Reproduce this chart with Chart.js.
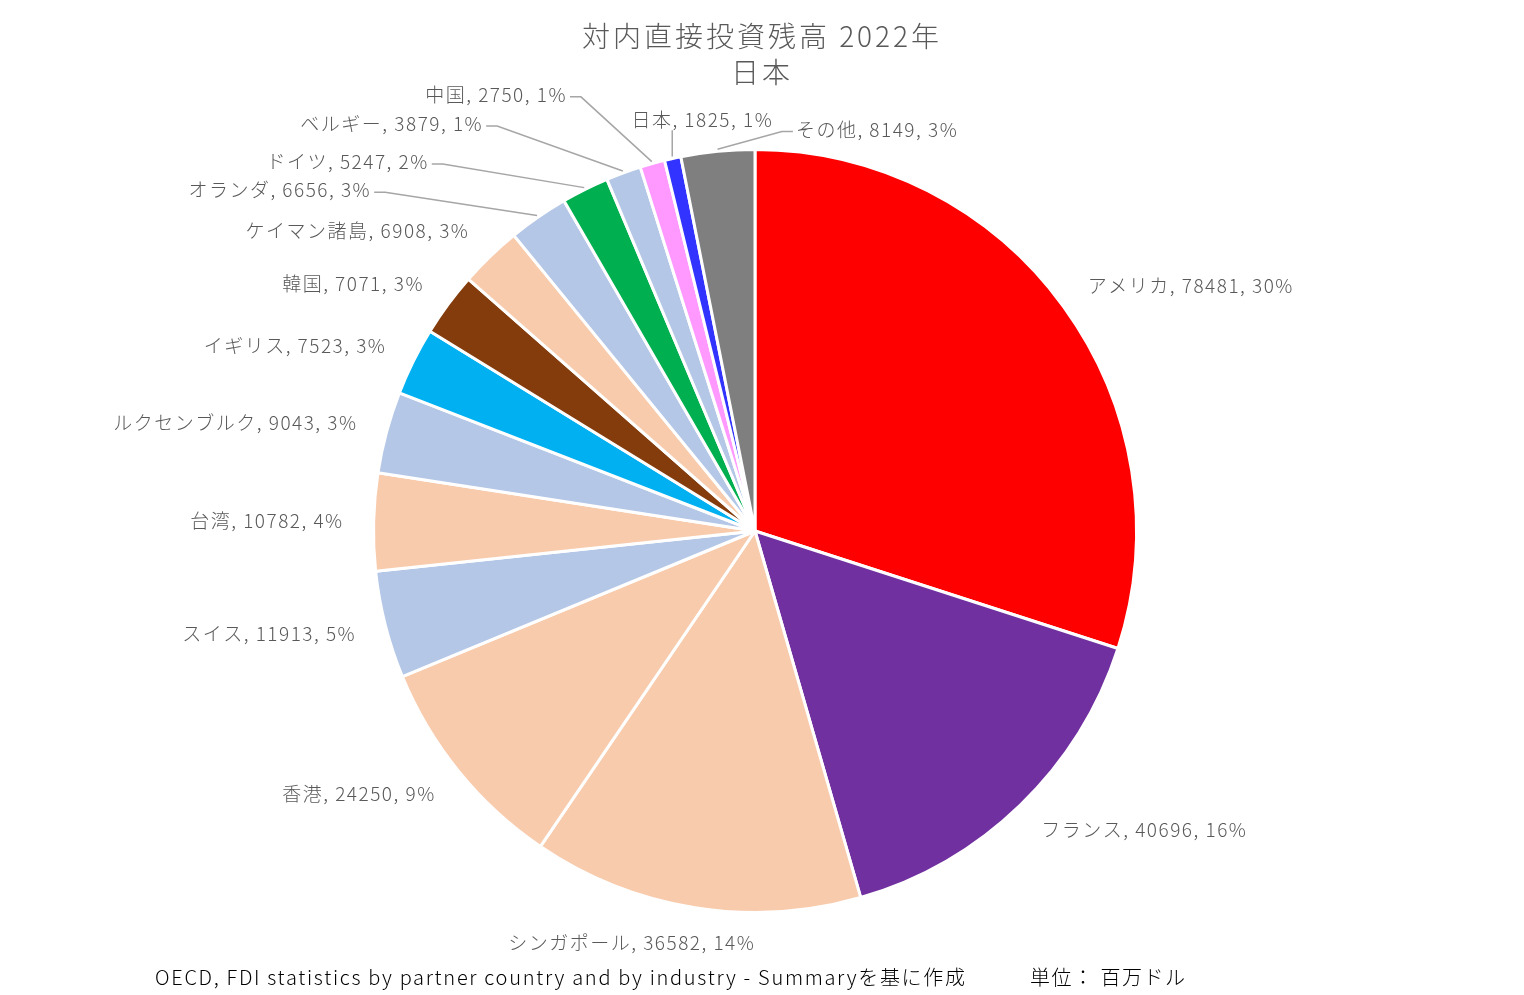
<!DOCTYPE html>
<html>
<head>
<meta charset="utf-8">
<script src="https://cdn.jsdelivr.net/npm/chart.js@4/dist/chart.umd.min.js"></script>
<style>
  html, body { margin: 0; padding: 0; background: #fff; }
  #wrap { width: 1524px; height: 995px; }
</style>
</head>
<body>
<div id="wrap"><canvas id="fdiChart"></canvas></div>
<script>
// data
var countries = ['アメリカ', 'フランス', 'シンガポール', '香港', 'スイス', '台湾', 'ルクセンブルク',
  'イギリス', '韓国', 'ケイマン諸島', 'オランダ', 'ドイツ', 'ベルギー', '中国', '日本', 'その他'];
var stock2022 = [78481, 40696, 36582, 24250, 11913, 10782, 9043, 7523, 7071, 6908, 6656, 5247, 3879, 2750, 1825, 8149];
var sliceColors = ['#FF0000', '#7030A0', '#F8CBAD', '#F8CBAD', '#B4C7E7', '#F8CBAD', '#B4C7E7',
  '#00B0F0', '#843C0C', '#F8CBAD', '#B4C7E7', '#00B050', '#B4C7E7', '#FF99FF', '#3333FF', '#7F7F7F'];

var titleLines = ['対内直接投資残高 2022年', '日本'];
var sourceNote = 'OECD, FDI statistics by partner country and by industry - Summaryを基に作成';
var unitNote = '単位： 百万ドル';

// label nudges for the crowded top slices (dx, dy in px), leader line drawn when nudged
var labelNudge = {
  10: [-150, 2],
  11: [-143, 4],
  12: [-130, -16],
  13: [-91, -35],
  14: [82, -5],
  15: [186, 13]
};

var FONT = '"Noto Sans CJK JP", "Noto Sans", sans-serif';
var total = stock2022.reduce((a, b) => a + b, 0);

const pieLabels = {
  id: 'pieLabels',
  afterDraw(chart) {
    const ctx = chart.ctx;
    const arcs = chart.getDatasetMeta(0).data;
    ctx.save();
    ctx.font = '300 19px ' + FONT;
    ctx.letterSpacing = '1.5px';
    ctx.fillStyle = '#595959';
    ctx.textBaseline = 'middle';
    ctx.textAlign = 'left';
    arcs.forEach((arc, i) => {
      const mid = (arc.startAngle + arc.endAngle) / 2;
      const cx = arc.x, cy = arc.y, R = arc.outerRadius;
      const sin = Math.cos(mid), cos = -Math.sin(mid); // measured clockwise from top
      const ax = cx + (R + 30) * sin;
      const ay = cy - (R + 24) * cos;
      const pct = Math.round(stock2022[i] / total * 100);
      const text = countries[i] + ', ' + stock2022[i] + ', ' + pct + '%';
      const w = ctx.measureText(text).width;
      const h = 22;
      const k = Math.max(-1, Math.min(1, sin * 3));
      let tx = ax + k * w / 2;
      let ty = ay - cos * h / 2;
      const nudge = labelNudge[i];
      if (nudge) {
        tx += nudge[0];
        ty += nudge[1];
        // leader line
        const ex = cx + (R + 2) * sin;
        const ey = cy - (R + 2) * cos;
        ctx.strokeStyle = '#A6A6A6';
        ctx.lineWidth = 1.5;
        ctx.beginPath();
        if (tx + w / 2 < ex) {
          ctx.moveTo(tx + w / 2 + 3, ty + 2);
          ctx.lineTo(tx + w / 2 + 14, ty + 2);
        } else if (tx - w / 2 > ex) {
          ctx.moveTo(tx - w / 2 - 3, ty + 2);
          ctx.lineTo(tx - w / 2 - 14, ty + 2);
        } else {
          ctx.moveTo(ex, ty + h / 2);
        }
        ctx.lineTo(ex, ey);
        ctx.stroke();
      }
      ctx.fillText(text, tx - w / 2, ty);
    });

    // title
    ctx.textAlign = 'center';
    ctx.fillStyle = '#595959';
    ctx.font = '300 28px ' + FONT;
    ctx.letterSpacing = '3px';
    ctx.fillText(titleLines[0], 762, 36);
    ctx.fillText(titleLines[1], 762, 72);

    // footer
    ctx.textAlign = 'left';
    ctx.fillStyle = '#000';
    ctx.font = '300 20px ' + FONT;
    ctx.letterSpacing = '1.7px';
    ctx.fillText(sourceNote, 155, 977);
    ctx.letterSpacing = '1.5px';
    ctx.fillText(unitNote, 1030, 977);
    ctx.restore();
  }
};

new Chart(document.getElementById('fdiChart'), {
  type: 'pie',
  data: {
    labels: countries,
    datasets: [{
      data: stock2022,
      backgroundColor: sliceColors,
      borderColor: '#FFFFFF',
      borderWidth: 3
    }]
  },
  options: {
    responsive: true,
    maintainAspectRatio: false,
    animation: false,
    layout: { padding: { left: 372, right: 386, top: 147, bottom: 80 } },
    plugins: {
      legend: { display: false },
      tooltip: { enabled: false }
    }
  },
  plugins: [pieLabels]
});
</script>
</body>
</html>
